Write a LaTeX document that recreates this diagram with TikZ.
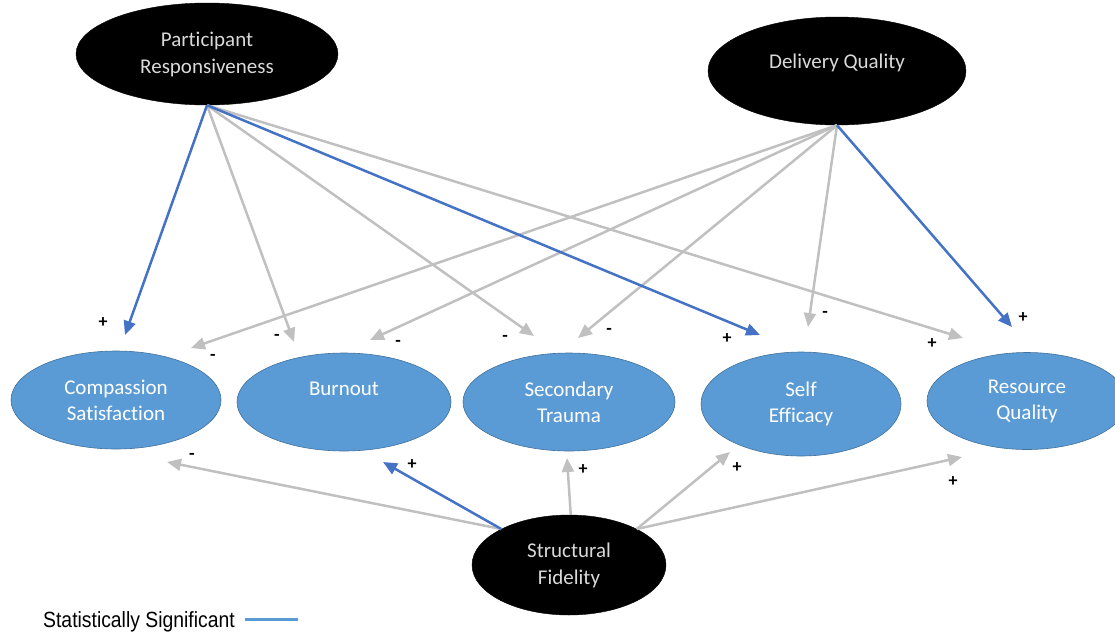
\documentclass[tikz,border=0pt]{standalone}
\usepackage{fontspec}
\usepackage{graphicx}
\setmainfont{Carlito}[Ligatures=NoCommon]
\newfontfamily\legendfont{Liberation Sans}
\usetikzlibrary{shapes.geometric,arrows.meta}
\definecolor{sigblue}{HTML}{4472C4}
\definecolor{nsgray}{HTML}{C0C0C0}
\definecolor{outfill}{HTML}{5B9BD5}
\definecolor{outedge}{HTML}{41719C}
\definecolor{legblue}{HTML}{5B9BD5}
\begin{document}
\begin{tikzpicture}[x=1pt,y=-1pt,
  predictor/.style={ellipse,fill=black,draw=black,inner sep=0pt,text=black!15,align=center,font=\fontsize{21}{27}\selectfont},
  outcome/.style={ellipse,fill=outfill,draw=outedge,line width=0.6pt,inner sep=0pt,text=white,align=center,font=\fontsize{21}{26}\selectfont},
  nsarrow/.style={draw=nsgray,line width=2.5pt,-{Triangle[length=14pt,width=12pt]}},
  sigarrow/.style={draw=sigblue,line width=2.5pt,-{Triangle[length=14pt,width=12pt]}},
  sign/.style={font=\bfseries\fontsize{18}{18}\selectfont,inner sep=0pt}]
\useasboundingbox (0,0) rectangle (1115,632);

% predictors
\node[predictor,minimum width=262pt,minimum height=102pt] (PR) at (207,54) {Participant\\Responsiveness};
\node[predictor,minimum width=258pt,minimum height=108pt] (DQ) at (837,71) {Delivery Quality\\[-8pt]\mbox{}};
\node[predictor,minimum width=194pt,minimum height=100pt] (SF) at (569,565) {Structural\\Fidelity};

% outcomes
\node[outcome,minimum width=210pt,minimum height=98pt] (CS) at (116,400) {Compassion\\Satisfaction};
\node[outcome,minimum width=214pt,minimum height=98pt] (BO) at (344,402) {Burnout\\\mbox{}};
\node[outcome,minimum width=212pt,minimum height=98pt] (ST) at (569,402) {Secondary\\Trauma};
\node[outcome,minimum width=200pt,minimum height=104pt] (SE) at (801,404) {Self\\Efficacy};
\node[outcome,minimum width=200pt,minimum height=97pt] (RQ) at (1027,401) {Resource\\Quality};

% arrow tips
\coordinate (pr-cs) at (125,335);
\coordinate (pr-bo) at (294,342);
\coordinate (pr-st) at (534,336);
\coordinate (pr-se) at (760,335);
\coordinate (pr-rq) at (963,338);
\coordinate (dq-cs) at (191,348);
\coordinate (dq-bo) at (370,340);
\coordinate (dq-st) at (578,338);
\coordinate (dq-se) at (808,327);
\coordinate (dq-rq) at (1012,327);
\coordinate (sf-cs) at (167,462);
\coordinate (sf-bo) at (383,462);
\coordinate (sf-st) at (567,458);
\coordinate (sf-se) at (730,452);
\coordinate (sf-rq) at (962,457);

% connectors from Participant Responsiveness
\draw[nsarrow] (PR.south) -- (pr-bo);
\draw[nsarrow] (PR.south) -- (pr-st);
\draw[nsarrow] (PR.south) -- (pr-rq);
% connectors from Delivery Quality
\draw[nsarrow] (DQ.south) -- (dq-cs);
\draw[nsarrow] (DQ.south) -- (dq-bo);
\draw[nsarrow] (DQ.south) -- (dq-st);
\draw[nsarrow] (DQ.south) -- (dq-se);
% connectors from Structural Fidelity
\draw[nsarrow] (SF.152) -- (sf-cs);
\draw[nsarrow] (SF.88) -- (sf-st);
\draw[nsarrow] (SF.28) -- (sf-se);
\draw[nsarrow] (SF.28) -- (sf-rq);
% significant paths
\draw[sigarrow] (PR.south) -- (pr-cs);
\draw[sigarrow] (PR.south) -- (pr-se);
\draw[sigarrow] (DQ.south) -- (dq-rq);
\draw[sigarrow] (SF.152) -- (sf-bo);

% signs
\node[sign] (s1) at (103,323) {+};
\node[sign] (s2) at (277,337) {-};
\node[sign] (s3) at (505,338) {-};
\node[sign] (s4) at (727,339) {+};
\node[sign] (s5) at (932,344) {+};
\node[sign] (s6) at (213,357) {-};
\node[sign] (s7) at (398,343) {-};
\node[sign] (s8) at (609,331) {-};
\node[sign] (s9) at (825,314) {-};
\node[sign] (s10) at (1023,318) {+};
\node[sign] (s11) at (192,456) {-};
\node[sign] (s12) at (412,465) {+};
\node[sign] (s13) at (583,470) {+};
\node[sign] (s14) at (737,468) {+};
\node[sign] (s15) at (953,482) {+};

% legend
\node[anchor=base west,inner sep=0pt,font=\legendfont\fontsize{22}{22}\selectfont] (leg) at (43,627) {\scalebox{0.88}[1]{Statistically Significant}};
\coordinate (legA) at (245,619);
\coordinate (legB) at (298,619);
\draw[legblue,line width=3pt] (legA) -- (legB);
\end{tikzpicture}
\end{document}
